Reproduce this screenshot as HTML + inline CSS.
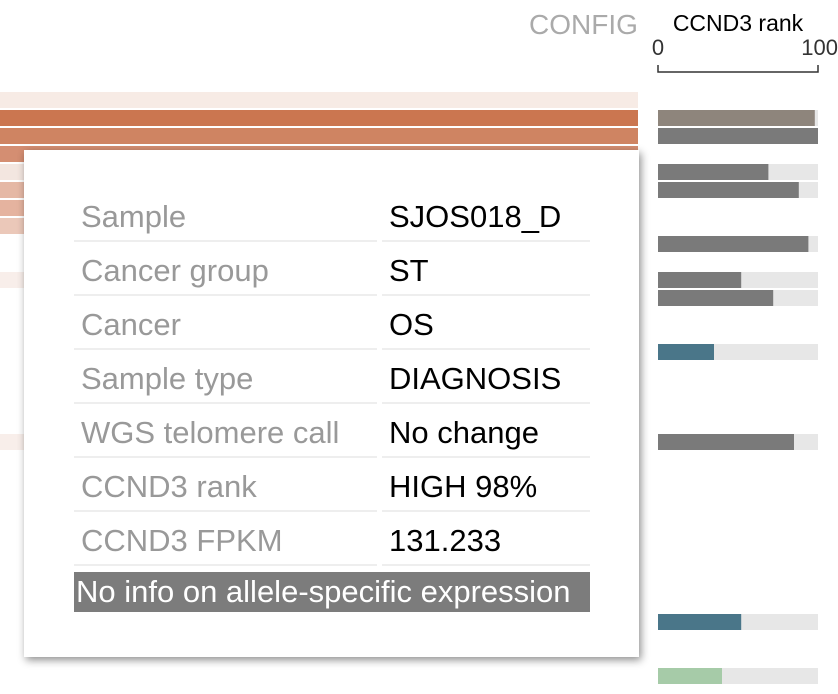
<!DOCTYPE html>
<html><head><meta charset="utf-8"><style>
body{margin:0;width:838px;height:694px;background:#fff;position:relative;overflow:hidden;font-family:"Liberation Sans",sans-serif}
.abs{position:absolute}
#tip{position:absolute;left:24px;top:150px;width:615px;height:507px;background:#fff;box-shadow:2px 3px 8px rgba(0,0,0,.45)}
.row{position:absolute;left:50px;height:52px;font-size:31px;line-height:54px;white-space:nowrap}
.lab{position:absolute;left:0;width:303px;height:52px;border-bottom:2px solid #eee;color:#999;padding-left:7px;box-sizing:border-box}
.val{position:absolute;left:308px;width:208px;height:52px;border-bottom:2px solid #eee;color:#000;padding-left:7px;box-sizing:border-box}
</style></head><body>
<div class="abs" style="left:529px;top:9px;font-size:28px;color:#aaa">CONFIG</div>
<svg class="abs" style="left:0;top:0" width="838" height="694" id="svg">
<text x="738" y="31" font-size="23" text-anchor="middle" fill="#000" font-family="Liberation Sans">CCND3 rank</text>
</svg>
<div id="tip">
<div class="row" style="top:40px"><div class="lab">Sample</div><div class="val">SJOS018_D</div></div>
<div class="row" style="top:94px"><div class="lab">Cancer group</div><div class="val">ST</div></div>
<div class="row" style="top:148px"><div class="lab">Cancer</div><div class="val">OS</div></div>
<div class="row" style="top:202px"><div class="lab">Sample type</div><div class="val">DIAGNOSIS</div></div>
<div class="row" style="top:256px"><div class="lab">WGS telomere call</div><div class="val">No change</div></div>
<div class="row" style="top:310px"><div class="lab">CCND3 rank</div><div class="val">HIGH 98%</div></div>
<div class="row" style="top:364px"><div class="lab">CCND3 FPKM</div><div class="val">131.233</div></div>
<div class="abs" style="left:50px;top:422px;width:516px;height:40px;background:#7c7c7c;color:#fff;font-size:31px;line-height:40px;padding-left:2px;box-sizing:border-box;white-space:nowrap">No info on allele-specific expression</div>
</div>
<script>
const heatRows=[0,1,2,3,4,5,6,7,10,19];
const heatColors=["#f7ebe5","#cb7650","#cf8462","#d48e72","#f3e6e0","#e5b8a5","#e5b39f","#ebc8b9","#f8eeea","#f8eeea"];
const rankRows=[1,2,4,5,8,10,11,14,19,29,32];
const rankValues=[98,100,69,88,94,52,72,35,85,52,40];
const rankColors=["#8e857c","#7a7a7a","#7a7a7a","#7a7a7a","#7a7a7a","#7a7a7a","#7a7a7a","#4a7689","#7a7a7a","#4a7689","#a6cba8"];
const axisTicks=[0,100];
const NS="http://www.w3.org/2000/svg",svg=document.getElementById('svg');
const rowY=i=>92+i*18, xr=v=>658+v*1.6;
function mk(t,a){const e=document.createElementNS(NS,t);for(const k in a)e.setAttribute(k,a[k]);svg.appendChild(e);return e;}
heatRows.forEach((r,i)=>{const e=mk('rect',{x:0,y:rowY(r),width:638,height:16,fill:heatColors[i]});

});
rankRows.forEach((r,i)=>{const b=mk('rect',{x:xr(0),y:rowY(r),width:xr(100)-xr(0),height:16,fill:"#e7e7e7"});


const e=mk('rect',{x:xr(0),y:rowY(r),width:xr(rankValues[i])-xr(0),height:16,fill:rankColors[i]});

});
const ax=mk('path',{d:`M${xr(0)},65V72H${xr(100)}V65`,stroke:"#333","stroke-width":1.5,fill:"none"});


axisTicks.forEach((t,i)=>{const e=mk('text',{x:xr(t)+(i?20:0),y:55,"font-size":22,"text-anchor":i?"end":"middle",fill:"#333","font-family":"Liberation Sans"});e.textContent=t;

});
</script>
</body></html>
